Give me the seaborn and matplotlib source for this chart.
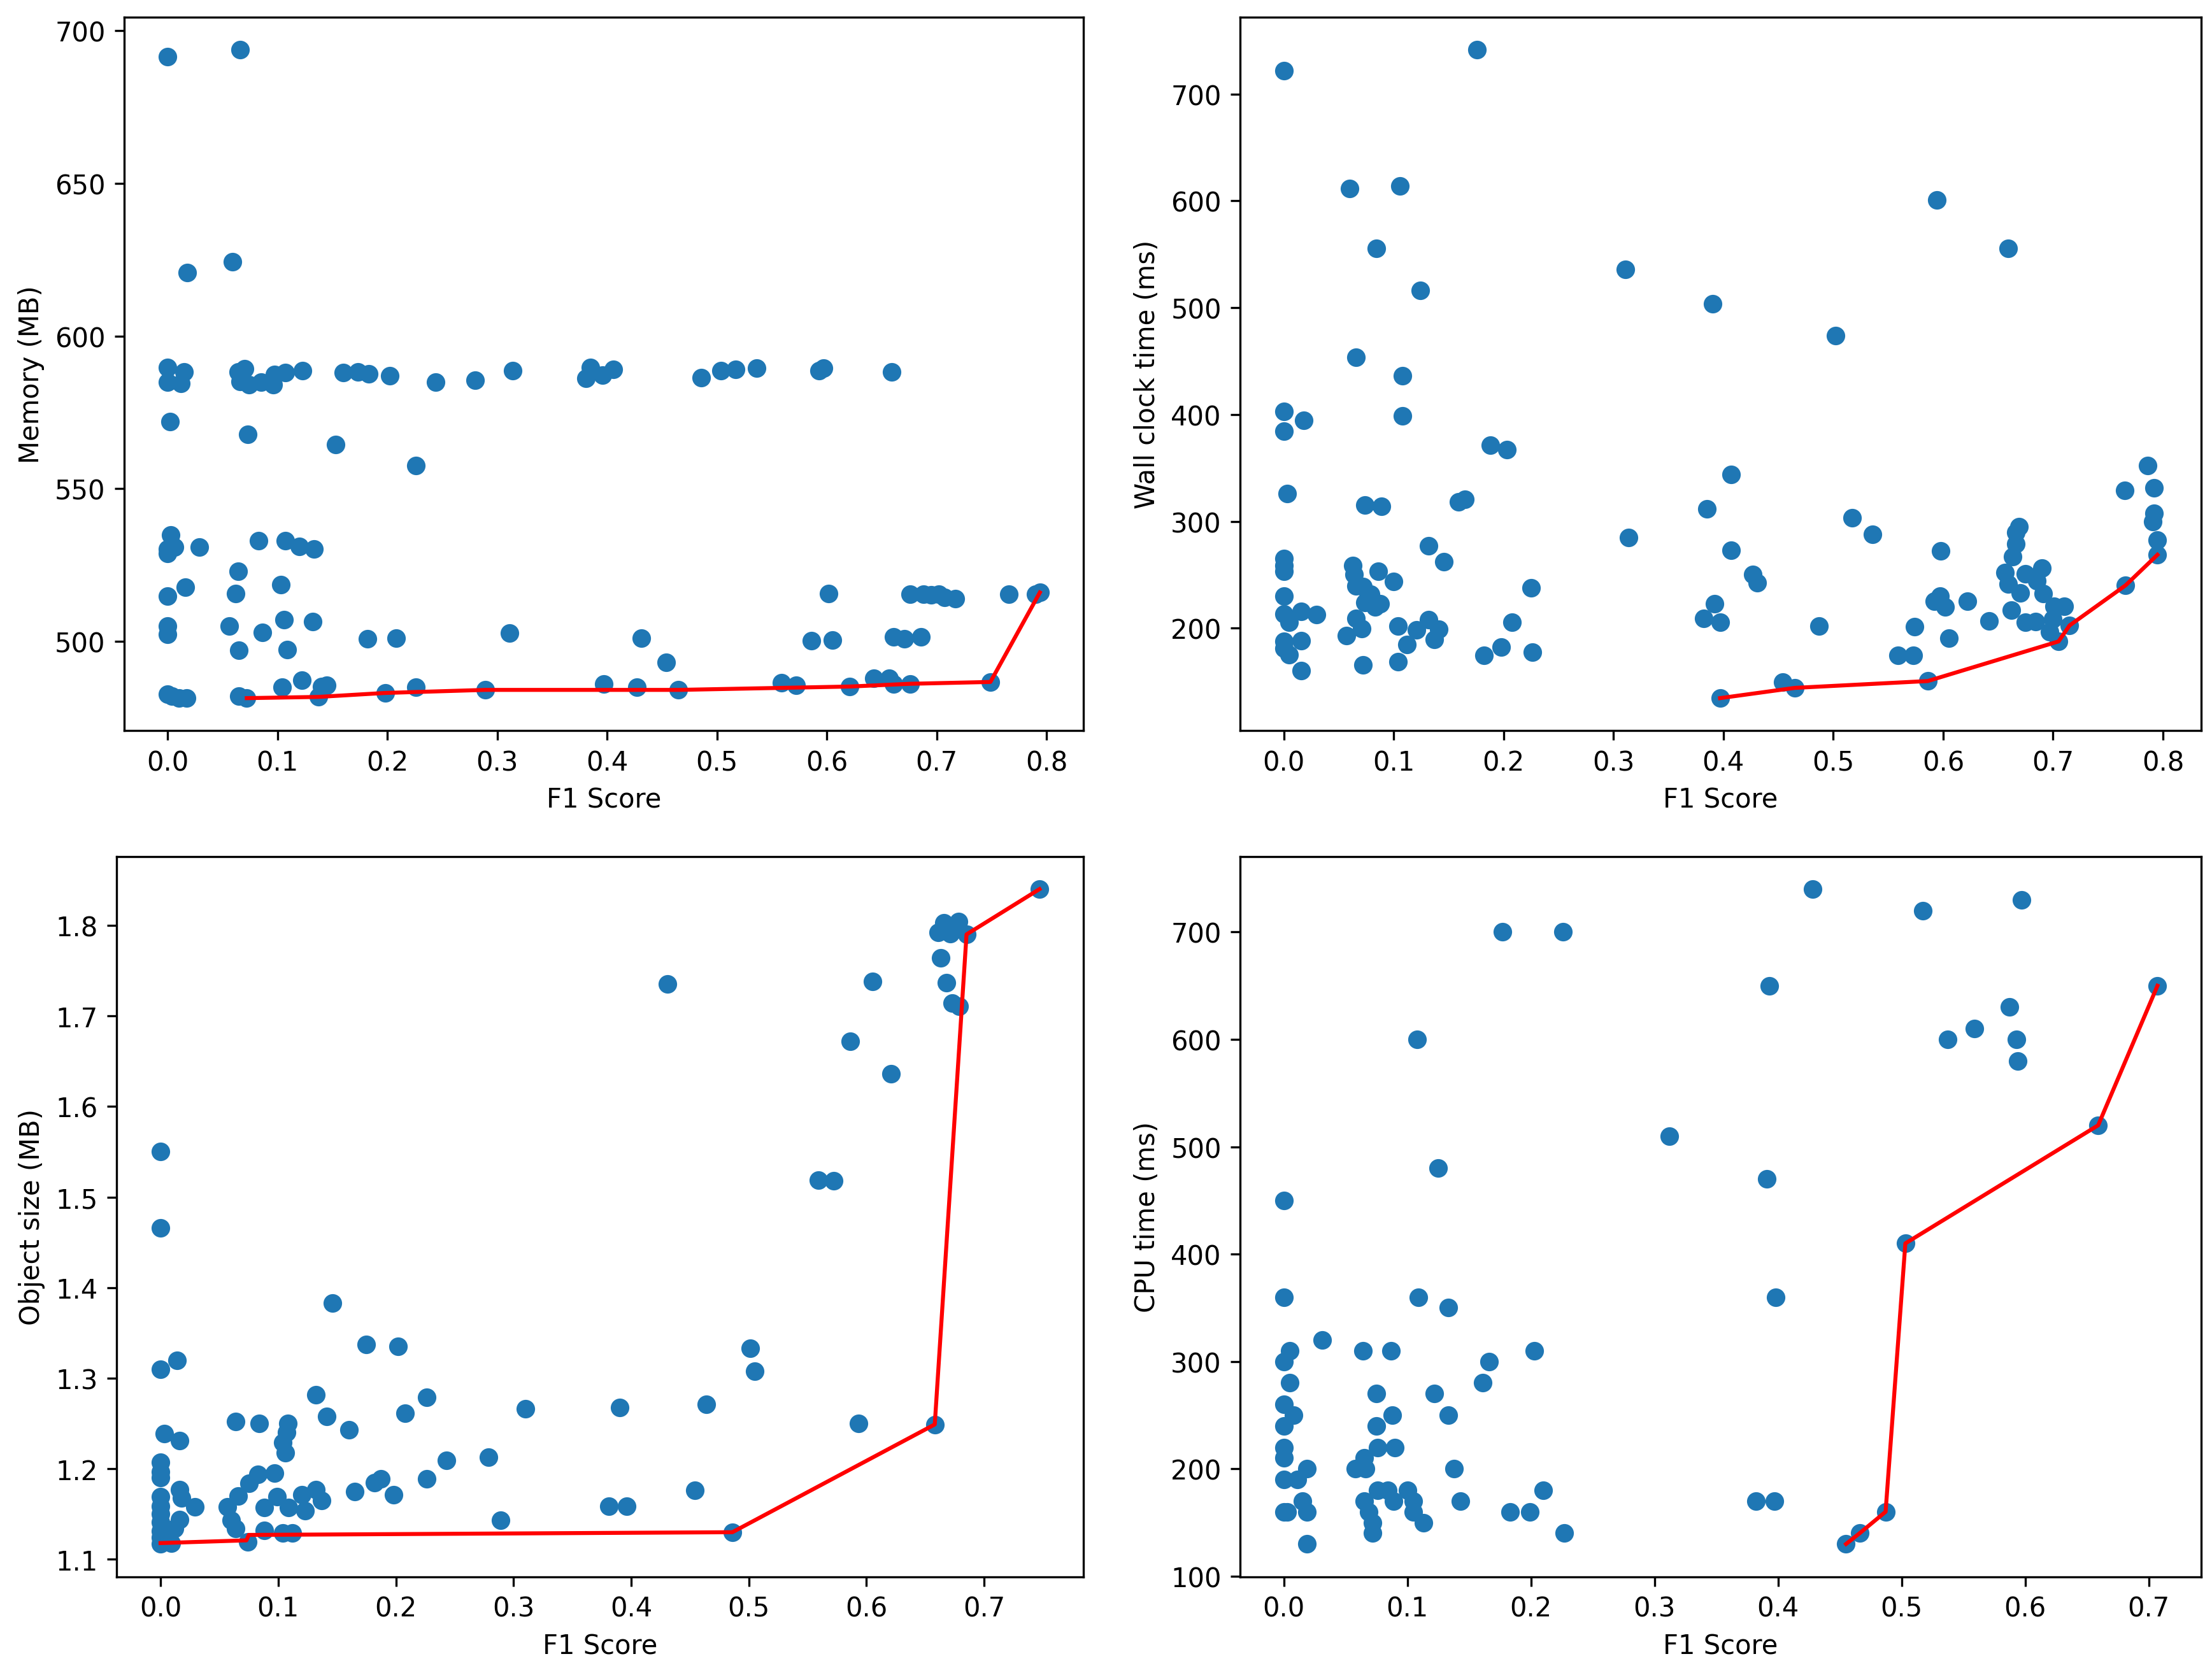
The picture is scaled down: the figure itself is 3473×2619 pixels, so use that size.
#!/usr/bin/env python3
"""
Pareto fronts: F1 score vs memory, wall clock time, object size and CPU time.
"""

import matplotlib
matplotlib.use("Agg")
import matplotlib.pyplot as plt
import seaborn as sns

OUT_PATH = "out.png"
DOT_COLOR = "#1f77b4"
FRONT_COLOR = "red"

# --- memory panel ---
MEM_F1 = [
    0.0, 0.066, 0.018, 0.059,
    0.0, 0.0, 0.015, 0.012, 0.064, 0.07, 0.066, 0.074, 0.085, 0.096, 0.097,
    0.107, 0.123, 0.16, 0.173, 0.183, 0.202, 0.244, 0.28, 0.314, 0.381,
    0.385, 0.396, 0.406, 0.486, 0.504, 0.517, 0.536, 0.593, 0.597, 0.659,
    0.002, 0.073, 0.153, 0.226,
    0.003, 0.0, 0.006, 0.0, 0.029, 0.083, 0.107, 0.12, 0.133,
    0.064, 0.016, 0.0, 0.062, 0.103,
    0.0, 0.0, 0.056, 0.086, 0.106, 0.132, 0.065, 0.109, 0.182, 0.208, 0.311,
    0.431, 0.454, 0.586, 0.602, 0.605, 0.661, 0.671, 0.686,
    0.676, 0.688, 0.695, 0.702, 0.707, 0.717, 0.766, 0.79, 0.794,
    0.0, 0.004, 0.01, 0.017, 0.065, 0.072, 0.104, 0.122, 0.137, 0.14, 0.145,
    0.198, 0.226, 0.289, 0.397, 0.427, 0.465, 0.559, 0.572, 0.621, 0.643,
    0.657, 0.661, 0.676, 0.749,
]
MEM_MB = [
    691.4, 693.8, 620.8, 624.3,
    589.7, 584.8, 588.3, 584.5, 588.3, 589.3, 585.2, 584.1, 584.8, 584.1, 587.3,
    588.0, 588.7, 588.0, 588.3, 587.6, 587.0, 584.9, 585.5, 588.7, 586.1,
    589.7, 587.1, 589.1, 586.4, 588.7, 589.1, 589.4, 588.7, 589.4, 588.2,
    572.0, 567.7, 564.4, 557.6,
    534.9, 530.3, 530.8, 528.8, 530.9, 533.0, 532.9, 531.1, 530.2,
    523.0, 517.7, 514.9, 515.6, 518.5,
    505.0, 502.3, 505.0, 503.0, 507.0, 506.4, 497.1, 497.3, 500.8, 501.1, 502.8,
    501.1, 493.2, 500.3, 515.6, 500.5, 501.5, 500.8, 501.5,
    515.5, 515.5, 515.2, 515.5, 514.4, 514.0, 515.5, 515.5, 516.0,
    482.6, 482.1, 481.4, 481.4, 482.1, 481.4, 484.9, 487.3, 481.8, 485.2, 485.6,
    483.1, 484.9, 484.1, 486.1, 484.9, 484.1, 486.4, 485.6, 485.2, 487.9,
    487.9, 486.1, 486.1, 486.7,
]
MEM_FRONT_F1 = [0.072, 0.137, 0.198, 0.289, 0.465, 0.621, 0.676, 0.749, 0.794]
MEM_FRONT_MB = [481.4, 481.8, 483.1, 484.1, 484.1, 485.2, 486.1, 486.7, 516.0]

# --- wall clock panel ---
WALL_F1 = [
    0.0, 0.176, 0.06, 0.106, 0.084, 0.124, 0.311, 0.39, 0.502, 0.594, 0.659,
    0.066, 0.108, 0.0, 0.018, 0.0, 0.108, 0.188, 0.203, 0.407, 0.003,
    0.074, 0.089, 0.159, 0.165, 0.385, 0.314, 0.407, 0.132, 0.146,
    0.0, 0.0, 0.0, 0.063, 0.064, 0.086, 0.1, 0.066, 0.072, 0.079, 0.074,
    0.088, 0.083, 0.225, 0.0, 0.0, 0.016, 0.03, 0.005, 0.066, 0.071, 0.057,
    0.104, 0.121, 0.132, 0.141, 0.137, 0.208, 0.0, 0.016, 0.0, 0.005, 0.016,
    0.072, 0.104, 0.112, 0.182, 0.198, 0.226, 0.382, 0.392, 0.397, 0.397,
    0.427, 0.431, 0.517, 0.536, 0.487, 0.598, 0.574, 0.559, 0.573, 0.592,
    0.597, 0.602, 0.605, 0.622, 0.454, 0.465, 0.586,
    0.669, 0.666, 0.666, 0.663, 0.656, 0.659, 0.67, 0.675, 0.69, 0.685,
    0.691, 0.662, 0.642, 0.675, 0.684, 0.71, 0.701, 0.7, 0.715, 0.697, 0.705,
    0.766, 0.765, 0.786, 0.792, 0.792, 0.791, 0.795, 0.795,
]
WALL_MS = [
    722.1, 741.6, 611.7, 613.9, 555.4, 516.5, 536.0, 503.5, 474.0, 600.9, 555.4,
    453.7, 436.4, 403.0, 394.4, 384.4, 398.7, 371.4, 367.1, 344.2, 326.0,
    315.2, 313.9, 318.2, 320.8, 311.7, 284.9, 273.2, 277.1, 262.4,
    265.4, 258.9, 253.2, 258.9, 250.2, 253.2, 243.7, 239.4, 239.0, 231.6, 224.3,
    223.0, 220.0, 237.7, 229.9, 213.4, 215.6, 212.6, 205.6, 209.1, 199.6, 193.1,
    202.2, 198.3, 208.2, 199.1, 189.6, 205.6, 187.5, 188.3, 181.0, 175.3, 160.6,
    165.8, 168.8, 184.8, 174.5, 182.2, 177.9, 209.1, 223.0, 205.6, 134.6,
    250.2, 242.4, 303.5, 287.9, 202.2, 272.7, 201.3, 174.5, 174.5, 225.5,
    229.9, 220.0, 190.5, 225.1, 149.4, 144.2, 150.6,
    294.8, 289.9, 279.0, 267.0, 252.2, 241.2, 233.3, 251.1, 256.1, 244.2,
    232.4, 216.8, 206.9, 205.6, 206.5, 220.4, 220.4, 208.5, 202.6, 196.6, 187.7,
    240.2, 329.0, 352.0, 331.2, 307.8, 300.0, 282.7, 268.8,
]
WALL_FRONT_F1 = [0.397, 0.465, 0.586, 0.705, 0.715, 0.766, 0.795]
WALL_FRONT_MS = [134.6, 144.2, 150.6, 187.7, 202.6, 240.2, 268.8]

# --- object size panel ---
SIZE_F1 = [
    0.0, 0.0, 0.0, 0.014, 0.003, 0.016,
    0.0, 0.0, 0.0, 0.0, 0.0, 0.0, 0.0, 0.0, 0.0, 0.0,
    0.016, 0.018, 0.029, 0.016, 0.012, 0.009,
    0.064, 0.084, 0.108, 0.107, 0.104, 0.106, 0.132, 0.141, 0.16, 0.146,
    0.175, 0.202, 0.208, 0.226,
    0.083, 0.097, 0.075, 0.066, 0.057, 0.06, 0.064, 0.074, 0.088, 0.088,
    0.099, 0.109, 0.12, 0.123, 0.132, 0.137, 0.104, 0.112,
    0.165, 0.182, 0.187, 0.198, 0.226, 0.243, 0.279, 0.289, 0.31, 0.39,
    0.381, 0.396, 0.431, 0.454, 0.464, 0.486, 0.501, 0.505, 0.559, 0.572,
    0.586, 0.593, 0.605, 0.621, 0.658,
    0.661, 0.666, 0.678, 0.671, 0.685, 0.663, 0.668, 0.673, 0.679, 0.747,
]
SIZE_MB = [
    1.55, 1.466, 1.31, 1.32, 1.239, 1.231,
    1.207, 1.197, 1.19, 1.169, 1.159, 1.15, 1.141, 1.131, 1.124, 1.117,
    1.177, 1.168, 1.158, 1.144, 1.134, 1.118,
    1.252, 1.25, 1.25, 1.24, 1.229, 1.218, 1.282, 1.258, 1.243, 1.383,
    1.337, 1.335, 1.261, 1.279,
    1.194, 1.195, 1.184, 1.17, 1.158, 1.143, 1.134, 1.119, 1.132, 1.157,
    1.169, 1.157, 1.171, 1.154, 1.177, 1.165, 1.129, 1.129,
    1.175, 1.185, 1.189, 1.171, 1.189, 1.209, 1.213, 1.143, 1.266, 1.268,
    1.159, 1.159, 1.735, 1.176, 1.271, 1.13, 1.333, 1.308, 1.519, 1.518,
    1.672, 1.25, 1.738, 1.636, 1.249,
    1.792, 1.803, 1.804, 1.791, 1.79, 1.764, 1.737, 1.714, 1.711, 1.84,
]
SIZE_FRONT_F1 = [0.0, 0.073, 0.075, 0.486, 0.658, 0.685, 0.747]
SIZE_FRONT_MB = [1.118, 1.121, 1.127, 1.13, 1.249, 1.79, 1.84]

# --- cpu time panel ---
CPU_F1 = [
    0.0, 0.0, 0.005, 0.0, 0.005, 0.0, 0.008, 0.0, 0.0, 0.0, 0.0, 0.011,
    0.019, 0.0, 0.003, 0.015, 0.019, 0.019, 0.031,
    0.064, 0.087, 0.075, 0.088, 0.075, 0.076, 0.09, 0.065, 0.058, 0.066,
    0.076, 0.084, 0.1, 0.065, 0.089, 0.105, 0.069, 0.105, 0.072, 0.072, 0.113,
    0.108, 0.125, 0.109, 0.133, 0.122, 0.133, 0.138, 0.143, 0.161, 0.166,
    0.177, 0.183, 0.199, 0.203, 0.21, 0.226, 0.227,
    0.312, 0.391, 0.393, 0.398, 0.382, 0.397, 0.428,
    0.455, 0.466, 0.487, 0.503, 0.517, 0.537, 0.559, 0.587, 0.593, 0.594,
    0.597, 0.659, 0.707,
]
CPU_MS = [
    450, 360, 310, 300, 280, 260, 250, 240, 220, 210, 190, 190,
    200, 160, 160, 170, 160, 130, 320,
    310, 310, 270, 250, 240, 220, 220, 210, 200, 200,
    180, 180, 180, 170, 170, 170, 160, 160, 150, 140, 150,
    600, 480, 360, 350, 270, 250, 200, 170, 280, 300,
    700, 160, 160, 310, 180, 700, 140,
    510, 470, 650, 360, 170, 170, 740,
    130, 140, 160, 410, 720, 600, 610, 630, 600, 580,
    730, 520, 650,
]
CPU_FRONT_F1 = [0.455, 0.466, 0.487, 0.503, 0.659, 0.707]
CPU_FRONT_MS = [130, 140, 160, 410, 520, 650]


def draw_panel(ax, f1, metric, front_f1, front_metric, ylabel):
    sns.scatterplot(x=f1, y=metric, ax=ax, color=DOT_COLOR, s=36,
                    linewidth=1, edgecolor=DOT_COLOR, legend=False)
    sns.lineplot(x=front_f1, y=front_metric, ax=ax, color=FRONT_COLOR,
                 sort=False, estimator=None, linewidth=1.5)
    ax.set_xlabel("F1 Score")
    ax.set_ylabel(ylabel)


def main():
    fig = plt.figure(figsize=(3473 / 300, 2620 / 300), dpi=300)

    ax_mem = fig.add_axes([0.0561, 0.5618, 0.4337, 0.4275])
    ax_wall = fig.add_axes([0.5606, 0.5618, 0.4345, 0.4275])
    ax_size = fig.add_axes([0.0527, 0.0547, 0.4371, 0.4317])
    ax_cpu = fig.add_axes([0.5606, 0.0547, 0.4345, 0.4317])

    draw_panel(ax_mem, MEM_F1, MEM_MB, MEM_FRONT_F1, MEM_FRONT_MB, "Memory (MB)")
    draw_panel(ax_wall, WALL_F1, WALL_MS, WALL_FRONT_F1, WALL_FRONT_MS,
               "Wall clock time (ms)")
    draw_panel(ax_size, SIZE_F1, SIZE_MB, SIZE_FRONT_F1, SIZE_FRONT_MB,
               "Object size (MB)")
    draw_panel(ax_cpu, CPU_F1, CPU_MS, CPU_FRONT_F1, CPU_FRONT_MS, "CPU time (ms)")

    fig.savefig(OUT_PATH, dpi=300)
    plt.close(fig)
    print(f"Saved {OUT_PATH}")


if __name__ == "__main__":
    main()
